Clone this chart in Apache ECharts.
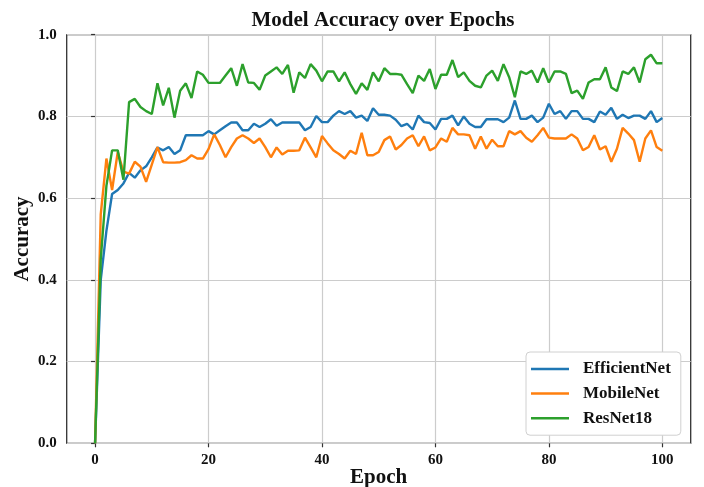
<!DOCTYPE html>
<html>
<head>
<meta charset="utf-8">
<script src="https://cdn.jsdelivr.net/npm/echarts@6/dist/echarts.min.js"></script>
<style>
html,body{margin:0;padding:0;background:#fff;}
#chart{width:704px;height:487px;}
</style>
</head>
<body>
<div id="chart"></div>
<script>
var epochs = [];
for (var i = 0; i <= 100; i++) epochs.push(i);

var efficientNet = [0,0.40,0.52,0.61,0.62,0.636,0.662,0.65,0.668,0.678,
0.70,0.724,0.717,0.725,0.708,0.717,0.754,0.754,0.754,0.754,
0.764,0.756,0.766,0.776,0.785,0.785,0.766,0.766,0.782,0.774,
0.782,0.793,0.777,0.785,0.785,0.785,0.785,0.766,0.774,0.801,
0.786,0.786,0.802,0.813,0.806,0.813,0.797,0.802,0.789,0.82,
0.804,0.804,0.802,0.792,0.776,0.782,0.768,0.802,0.786,0.784,
0.768,0.794,0.794,0.802,0.778,0.80,0.782,0.774,0.774,0.793,
0.793,0.793,0.786,0.797,0.839,0.794,0.794,0.802,0.786,0.797,
0.831,0.806,0.813,0.794,0.813,0.813,0.794,0.794,0.786,0.812,
0.804,0.821,0.794,0.804,0.796,0.802,0.802,0.794,0.813,0.786,
0.796];

var mobileNet = [0,0.56,0.697,0.62,0.713,0.665,0.66,0.689,0.677,0.64,
0.682,0.725,0.688,0.687,0.687,0.688,0.693,0.705,0.697,0.697,
0.72,0.756,0.73,0.70,0.725,0.746,0.754,0.746,0.735,0.746,
0.725,0.70,0.724,0.707,0.716,0.716,0.717,0.748,0.724,0.70,
0.752,0.734,0.717,0.708,0.697,0.716,0.708,0.76,0.705,0.705,
0.713,0.742,0.751,0.719,0.73,0.746,0.754,0.727,0.751,0.717,
0.724,0.746,0.738,0.772,0.756,0.756,0.754,0.721,0.751,0.721,
0.743,0.727,0.727,0.764,0.756,0.764,0.748,0.738,0.754,0.772,
0.748,0.746,0.746,0.746,0.756,0.746,0.717,0.725,0.754,0.719,
0.727,0.689,0.721,0.772,0.758,0.742,0.689,0.746,0.766,0.725,
0.716];

var resNet18 = [0,0.45,0.63,0.717,0.717,0.645,0.835,0.843,0.823,0.813,
0.806,0.881,0.827,0.87,0.797,0.863,0.881,0.845,0.91,0.902,
0.882,0.882,0.882,0.90,0.918,0.875,0.928,0.883,0.882,0.865,
0.90,0.91,0.92,0.904,0.926,0.858,0.908,0.894,0.928,0.912,
0.886,0.91,0.91,0.886,0.908,0.879,0.855,0.881,0.865,0.908,
0.886,0.918,0.904,0.904,0.902,0.879,0.857,0.90,0.887,0.916,
0.867,0.902,0.902,0.938,0.896,0.908,0.887,0.875,0.871,0.90,
0.912,0.887,0.928,0.896,0.847,0.91,0.904,0.912,0.883,0.918,
0.883,0.91,0.91,0.904,0.857,0.863,0.843,0.883,0.891,0.891,
0.92,0.871,0.862,0.91,0.904,0.92,0.883,0.94,0.951,0.93,
0.93];

var seriesNames = ['EfficientNet', 'MobileNet', 'ResNet18'];
var seriesColors = ['#1f77b4', '#ff7f0e', '#2ca02c'];
var xTicks = [0, 20, 40, 60, 80, 100];
var yTicks = [0, 0.2, 0.4, 0.6, 0.8, 1.0];

function pairs(vals) {
  return epochs.map(function (e, i) { return [e, vals[i]]; });
}

var FONT = "'Liberation Serif', 'Times New Roman', serif";
var chart = echarts.init(document.getElementById('chart'), null, {renderer: 'canvas'});

var allVals = [efficientNet, mobileNet, resNet18];
var series = seriesNames.map(function (n, k) {
  return {
    name: n,
    type: 'line',
    data: pairs(allVals[k]),
    showSymbol: false,
    symbol: 'none',
    lineStyle: {width: 2.4, color: seriesColors[k]},
    itemStyle: {color: seriesColors[k]},
    z: 3 + k
  };
});

chart.setOption({
  animation: false,
  backgroundColor: '#fff',
  title: {
    text: 'Model Accuracy over Epochs',
    left: 378, top: 5, textAlign: 'center',
    textStyle: {fontFamily: FONT, fontWeight: 'bold', fontSize: 21, color: '#111'}
  },
  grid: {
    left: 66.7, right: 13.3, top: 34.7, bottom: 43.7,
    outerBoundsMode: 'none',
    containLabel: false,
    show: true, borderColor: '#333', borderWidth: 1.3, backgroundColor: 'transparent'
  },
  legend: {
    data: seriesNames,
    orient: 'vertical',
    left: 526, top: 352,
    padding: [8, 10, 8, 5],
    itemGap: 6.6,
    itemWidth: 38, itemHeight: 2.5,
    icon: 'rect',
    backgroundColor: '#fff',
    borderColor: '#d0d0d0', borderWidth: 1, borderRadius: 4,
    textStyle: {fontFamily: FONT, fontWeight: 'bold', fontSize: 17, color: '#111', lineHeight: 18, padding: [0, 0, 0, 9]}
  },
  xAxis: {
    type: 'value', min: -5, max: 105,
    name: 'Epoch', nameLocation: 'middle', nameGap: 24, nameMoveOverlap: false,
    nameTextStyle: {fontFamily: FONT, fontWeight: 'bold', fontSize: 21, color: '#111'},
    axisLine: {show: false},
    axisTick: {show: true, customValues: xTicks, length: 4, lineStyle: {color: '#333', width: 1.2}},
    axisLabel: {customValues: xTicks, margin: 9, fontFamily: FONT, fontWeight: 'bold', fontSize: 15, color: '#111'},
    splitLine: {show: true, lineStyle: {color: '#cccccc', width: 1.2}}
  },
  yAxis: {
    type: 'value', min: 0, max: 1.0, interval: 0.2,
    name: 'Accuracy', nameLocation: 'middle', nameGap: 34, nameMoveOverlap: false,
    nameTextStyle: {fontFamily: FONT, fontWeight: 'bold', fontSize: 21, color: '#111'},
    axisLine: {show: false},
    axisTick: {show: true, length: 4, lineStyle: {color: '#333', width: 1.2}},
    axisLabel: {margin: 10, fontFamily: FONT, fontWeight: 'bold', fontSize: 15, color: '#111',
      formatter: function (v) { return v.toFixed(1); }},
    splitLine: {show: true, lineStyle: {color: '#cccccc', width: 1.2}}
  },
  series: series
});
</script>
</body>
</html>
